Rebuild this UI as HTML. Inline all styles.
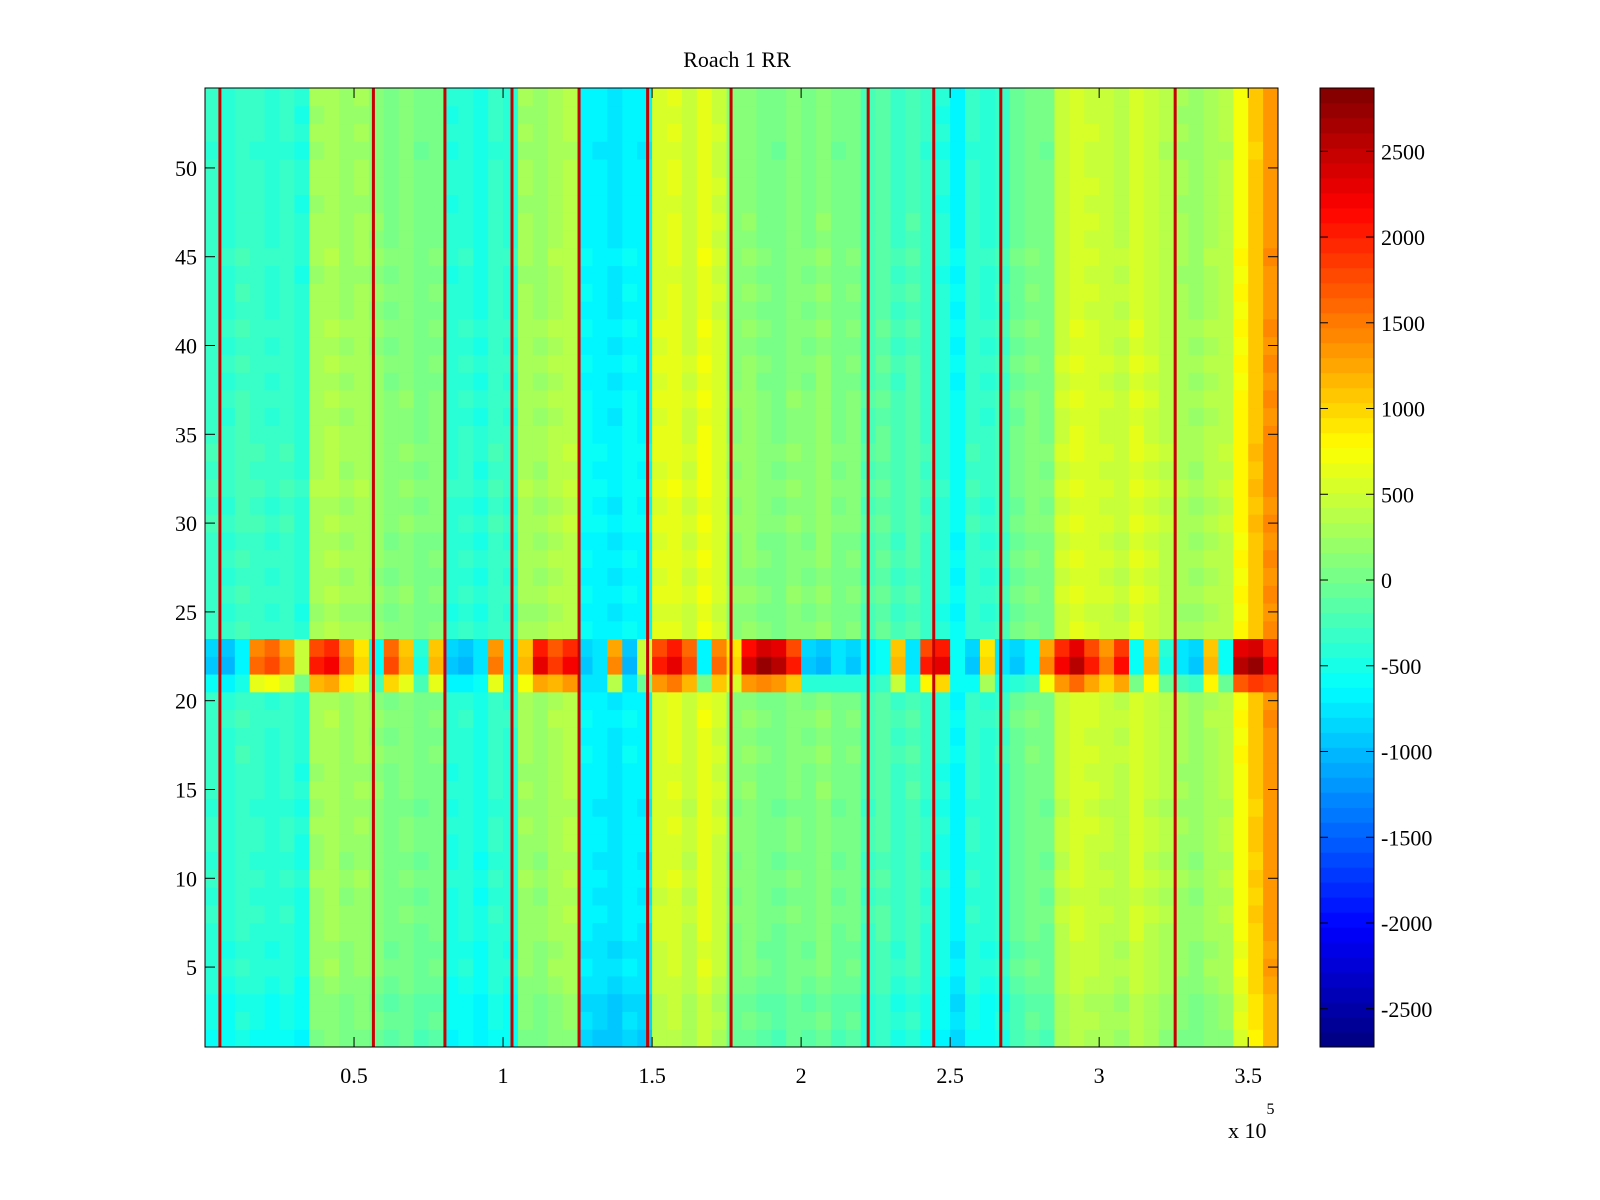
<!DOCTYPE html>
<html><head><meta charset="utf-8">
<style>
html,body{margin:0;padding:0;background:#fff;}
svg{display:block;font-family:"Liberation Serif",serif;}
</style></head>
<body>
<svg id="chart" width="1600" height="1200" viewBox="0 0 1600 1200">
<text x="737" y="67" font-size="22" text-anchor="middle">Roach 1 RR</text>
<g id="cells"></g>
<g id="spikes"></g>
<rect x="205" y="88" width="1073" height="959" fill="none" stroke="#000" stroke-width="1"/>
<g id="xaxis"></g>
<g id="yaxis"></g>
<text x="1228" y="1138" font-size="22">x 10<tspan dy="-24" font-size="16">5</tspan></text>
<g id="cbar"></g>
</svg>
<script>
// x bins of 0.05e5 from 0 to 3.6e5
const colMeans = [-300,-350,-250,-300,-350,-300,-400, 300,350,250,300, 200, 100,150,50,100,
 -400,-350,-450,-300,-350, 300,250,350,400, -600,-650,-700,-600,-650,
 600,650,500,700,550, 150,200,100,50,150, 100,200,50,100,
 -200,-100,-250,-150,-300, -400,-600,-300,-350,-250, 0,100,50,
 500,600,550,500,450,600,500,400, 300,250,350,400, 800,1100,1400];
// noisy band rows 22-23
const bandVals = [-900,-1000,-700,1600,1800,1400,500,2000,2200,1500,1000,-600,1800,1200,-500,1200,
 -900,-1000,-800,1500,-700,1200,2300,1900,2200,-900,-800,1400,-1000,500,
 2000,2300,1800,-700,1600,1000,2400,2700,2600,2000, -900,-1000,-800,-900,
 -700,-600,1200,-800,2000,2300,-600,-900,1000,-800, -900,-700,1400,
 2200,2600,2000,1500,2100,-600,1200,-500, -800,-900,1200,-600, 2600,2700,2200];
// row effects for rows 1..54
const rowOffsets = [-250,-200,-220,-150,-100,-120,-80,-60,-100,-50,-90,-60,-40,-80,-30,-60,-20,-50,-10,-40,
 0,0,0, 0,-60,20,-40,10,-30,30,-20,40,-10,30,0,-20,20,-30,10,-40,0,-50,-20,-60,-10,-50,-30,-60,-40,-50,-70,-40,-60,-50];
const spikeX = [0.05,0.565,0.805,1.03,1.255,1.485,1.765,2.225,2.445,2.67,3.255];
const spikeVal = 2500;
const yTicks = [5,10,15,20,25,30,35,40,45,50];
const xTicks = [0.5,1,1.5,2,2.5,3,3.5];
const xTickLabels = ["0.5","1","1.5","2","2.5","3","3.5"];
const cTicks = [2500,2000,1500,1000,500,0,-500,-1000,-1500,-2000,-2500];

const NS="http://www.w3.org/2000/svg";
const X0=205,X1=1278,Y0=88,Y1=1047;
const xMin=0,xMax=3.6,yMin=0.5,yMax=54.5,cMin=-2723,cMax=2869;
const xs=v=>X0+(v-xMin)/(xMax-xMin)*(X1-X0);
const ys=v=>Y1-(v-yMin)/(yMax-yMin)*(Y1-Y0);
function jet(v){
  let t=(v-cMin)/(cMax-cMin); t=Math.max(0,Math.min(1,t));
  t=Math.floor(t*64)/64+1/128;
  const c=x=>Math.round(255*Math.max(0,Math.min(1,x)));
  return `rgb(${c(1.5-Math.abs(4*t-3))},${c(1.5-Math.abs(4*t-2))},${c(1.5-Math.abs(4*t-1))})`;
}
function mk(tag,attrs,parent){const e=document.createElementNS(NS,tag);for(const k in attrs)e.setAttribute(k,attrs[k]);parent.appendChild(e);return e;}

const cells=document.getElementById('cells');
const bw=0.05;
for(let r=1;r<=54;r++){
  for(let i=0;i<colMeans.length;i++){
    let v=colMeans[i]+rowOffsets[r-1];
    if(r===22||r===23) v=bandVals[i]*(r===22?1:0.9);
    if(r===21) v=(colMeans[i]+bandVals[i])/2;
    const x=xs(i*bw), w=xs((i+1)*bw)-x;
    const e=mk('rect',{x:x,y:ys(r+0.5),width:w+0.5,height:ys(r-0.5)-ys(r+0.5)+0.5,fill:jet(v)},cells);
    
    
  }
}
const sp=document.getElementById('spikes');
spikeX.forEach(s=>{
  const e=mk('rect',{x:xs(s)-1.5,y:Y0,width:3,height:Y1-Y0,fill:jet(spikeVal)},sp);
  
  
});
const xa=document.getElementById('xaxis');
xTicks.forEach((t,i)=>{
  const x=xs(t);
  mk('line',{x1:x,x2:x,y1:Y1,y2:Y1-10,stroke:'#000'},xa);
  mk('line',{x1:x,x2:x,y1:Y0,y2:Y0+10,stroke:'#000'},xa);
  const tx=mk('text',{x:x,y:Y1+36,'font-size':22,'text-anchor':'middle'},xa);
  tx.textContent=xTickLabels[i];
  
  
});
const ya=document.getElementById('yaxis');
yTicks.forEach(t=>{
  const y=ys(t);
  mk('line',{x1:X0,x2:X0+10,y1:y,y2:y,stroke:'#000'},ya);
  mk('line',{x1:X1,x2:X1-10,y1:y,y2:y,stroke:'#000'},ya);
  const tx=mk('text',{x:X0-8,y:y+8,'font-size':22,'text-anchor':'end'},ya);
  tx.textContent=t;
  
  
});
const cb=document.getElementById('cbar');
const CX0=1320,CX1=1374;
for(let k=0;k<64;k++){
  const v0=cMin+(cMax-cMin)*k/64, v1=cMin+(cMax-cMin)*(k+1)/64;
  const yy0=Y1-(k/64)*(Y1-Y0), yy1=Y1-((k+1)/64)*(Y1-Y0);
  mk('rect',{x:CX0,y:yy1,width:CX1-CX0,height:yy0-yy1+0.5,fill:jet((v0+v1)/2)},cb);
}
mk('rect',{x:CX0,y:Y0,width:CX1-CX0,height:Y1-Y0,fill:'none',stroke:'#000'},cb);
cTicks.forEach(t=>{
  const y=Y1-(t-cMin)/(cMax-cMin)*(Y1-Y0);
  mk('line',{x1:CX0,x2:CX0+8,y1:y,y2:y,stroke:'#000'},cb);
  mk('line',{x1:CX1,x2:CX1-8,y1:y,y2:y,stroke:'#000'},cb);
  const tx=mk('text',{x:CX1+7,y:y+8,'font-size':22},cb);
  tx.textContent=t;
  
  
});
</script>
</body></html>
